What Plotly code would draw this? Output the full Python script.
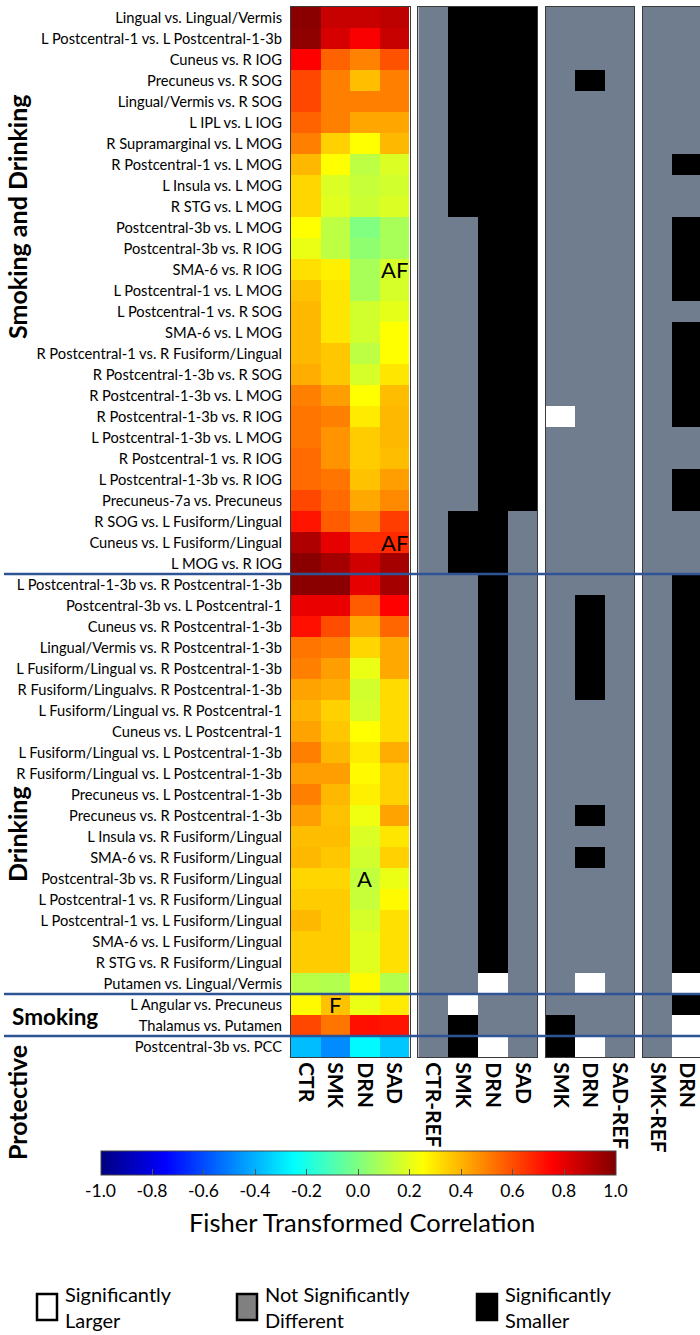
import plotly.graph_objects as go

# ---------------- data ----------------
rows = [
    "Lingual vs. Lingual/Vermis", "L Postcentral-1 vs. L Postcentral-1-3b", "Cuneus vs. R IOG",
    "Precuneus vs. R SOG", "Lingual/Vermis vs. R SOG", "L IPL vs. L IOG",
    "R Supramarginal vs. L MOG", "R Postcentral-1 vs. L MOG", "L Insula vs. L MOG",
    "R STG vs. L MOG", "Postcentral-3b vs. L MOG", "Postcentral-3b vs. R IOG",
    "SMA-6 vs. R IOG", "L Postcentral-1 vs. L MOG", "L Postcentral-1 vs. R SOG",
    "SMA-6 vs. L MOG", "R Postcentral-1 vs. R Fusiform/Lingual", "R Postcentral-1-3b vs. R SOG",
    "R Postcentral-1-3b vs. L MOG", "R Postcentral-1-3b vs. R IOG", "L Postcentral-1-3b vs. L MOG",
    "R Postcentral-1 vs. R IOG", "L Postcentral-1-3b vs. R IOG", "Precuneus-7a vs. Precuneus",
    "R SOG vs. L Fusiform/Lingual", "Cuneus vs. L Fusiform/Lingual", "L MOG vs. R IOG",
    "L Postcentral-1-3b vs. R Postcentral-1-3b", "Postcentral-3b vs. L Postcentral-1",
    "Cuneus vs. R Postcentral-1-3b", "Lingual/Vermis vs. R Postcentral-1-3b",
    "L Fusiform/Lingual vs. R Postcentral-1-3b", "R Fusiform/Lingualvs. R Postcentral-1-3b",
    "L Fusiform/Lingual vs. R Postcentral-1", "Cuneus vs. L Postcentral-1",
    "L Fusiform/Lingual vs. L Postcentral-1-3b", "R Fusiform/Lingual vs. L Postcentral-1-3b",
    "Precuneus vs. L Postcentral-1-3b", "Precuneus vs. R Postcentral-1-3b",
    "L Insula vs. R Fusiform/Lingual", "SMA-6 vs. R Fusiform/Lingual",
    "Postcentral-3b vs. R Fusiform/Lingual", "L Postcentral-1 vs. R Fusiform/Lingual",
    "L Postcentral-1 vs. L Fusiform/Lingual", "SMA-6 vs. L Fusiform/Lingual",
    "R STG vs. R Fusiform/Lingual", "Putamen vs. Lingual/Vermis",
    "L Angular vs. Precuneus", "Thalamus vs. Putamen",
    "Postcentral-3b vs. PCC",
]

groups = ["CTR", "SMK", "DRN", "SAD"]

ctr = [0.98, 0.97, 0.75, 0.61, 0.61, 0.555, 0.50, 0.39, 0.33, 0.33, 0.25, 0.21, 0.31, 0.37,
       0.39, 0.39, 0.39, 0.41, 0.50, 0.52, 0.52, 0.54, 0.54, 0.61, 0.71, 0.91, 0.98,
       0.98, 0.79, 0.72, 0.52, 0.50, 0.43, 0.40, 0.43, 0.50, 0.44, 0.50, 0.44, 0.38, 0.39,
       0.33, 0.35, 0.39, 0.35, 0.35, 0.11,
       0.26, 0.61,
       -0.38]
smk = [0.86, 0.83, 0.555, 0.50, 0.50, 0.50, 0.34, 0.25, 0.18, 0.19, 0.12, 0.12, 0.28, 0.30,
       0.30, 0.30, 0.36, 0.36, 0.44, 0.50, 0.46, 0.46, 0.52, 0.54, 0.57, 0.80, 0.93,
       0.98, 0.79, 0.60, 0.50, 0.44, 0.41, 0.34, 0.36, 0.39, 0.44, 0.39, 0.37, 0.38, 0.36,
       0.33, 0.35, 0.35, 0.35, 0.35, 0.10,
       0.37, 0.52,
       -0.475]
drn = [0.86, 0.76, 0.495, 0.375, 0.50, 0.425, 0.25, 0.12, 0.14, 0.15, 0.00, 0.03, 0.08, 0.08,
       0.16, 0.16, 0.12, 0.17, 0.25, 0.29, 0.35, 0.35, 0.37, 0.42, 0.50, 0.67, 0.84,
       0.80, 0.57, 0.42, 0.33, 0.21, 0.16, 0.17, 0.25, 0.29, 0.26, 0.28, 0.22, 0.18, 0.16,
       0.13, 0.14, 0.17, 0.19, 0.19, 0.26,
       0.21, 0.72,
       -0.26]
sad = [0.88, 0.86, 0.59, 0.50, 0.50, 0.425, 0.39, 0.18, 0.16, 0.18, 0.08, 0.08, 0.17, 0.17,
       0.20, 0.25, 0.25, 0.30, 0.38, 0.39, 0.39, 0.38, 0.44, 0.48, 0.63, 0.67, 0.93,
       0.93, 0.75, 0.55, 0.42, 0.42, 0.32, 0.32, 0.32, 0.41, 0.34, 0.34, 0.43, 0.30, 0.34,
       0.21, 0.26, 0.31, 0.31, 0.31, 0.10,
       0.29, 0.71,
       -0.36]

# significance vs reference: W = significantly larger, G = not different, B = significantly smaller
# groups of rows: smoking & drinking (27) | drinking (20) | smoking (2) | protective (1)
p2_labels = ["CTR-REF", "SMK", "DRN", "SAD"]
p2_ctrref = "GGGGGGGGGGGGGGGGGGGGGGGGGGG GGGGGGGGGGGGGGGGGGGG GG G"
p2_smk    = "BBBBBBBBBBGGGGGGGGGGGGGGBBB GGGGGGGGGGGGGGGGGGGG WB B"
p2_drn    = "BBBBBBBBBBBBBBBBBBBBBBBBBBB BBBBBBBBBBBBBBBBBBBW GG W"
p2_sad    = "BBBBBBBBBBBBBBBBBBBBBBBBGGG GGGGGGGGGGGGGGGGGGGG GG G"

p3_labels = ["SMK", "DRN", "SAD-REF"]
p3_smk    = "GGGGGGGGGGGGGGGGGGGWGGGGGGG GGGGGGGGGGGGGGGGGGGG GB B"
p3_drn    = "GGGBGGGGGGGGGGGGGGGGGGGGGGG GBBBBBGGGGGBGBGGGGGW GG W"
p3_sadref = "GGGGGGGGGGGGGGGGGGGGGGGGGGG GGGGGGGGGGGGGGGGGGGG GG G"

p4_labels = ["SMK-REF", "DRN"]
p4_smkref = "GGGGGGGGGGGGGGGGGGGGGGGGGGG GGGGGGGGGGGGGGGGGGGG GG G"
p4_drn    = "GGGGGGGBGGBBBBGBBBBBGGBBGGG BBBBBBBBBBBBBBBBBBBW BW W"

markers = [("AF", "SAD", 12), ("AF", "SAD", 25), ("A", "DRN", 41), ("F", "SMK", 47)]

# ---------------- styling ----------------
W, H = 700, 1335
TOP, BOT = 7, 1057
FONT = "Lato"
GRAY = "#707D8F"
LINE_BLUE = "#2F5496"

jet = [[0.0, "#000080"], [0.125, "#0000FF"], [0.375, "#00FFFF"],
       [0.625, "#FFFF00"], [0.875, "#FF0000"], [1.0, "#800000"]]
sig_scale = [[0.0, "white"], [0.333, "white"], [0.333, GRAY], [0.667, GRAY],
             [0.667, "black"], [1.0, "black"]]
code = {"W": 0, "G": 1, "B": 2}


def sig_matrix(cols):
    cols = [c.replace(" ", "") for c in cols]
    return [[code[c[i]] for c in cols] for i in range(len(rows))]


def px(x):
    return x / W


def py(y):
    return 1 - y / H


ydom = [py(BOT), py(TOP)]

fig = go.Figure()

z_main = [[ctr[i], smk[i], drn[i], sad[i]] for i in range(len(rows))]
fig.add_trace(go.Heatmap(
    z=z_main, x=groups, y=rows, colorscale=jet, zmin=-1, zmax=1,
    xaxis="x", yaxis="y",
    colorbar=dict(
        orientation="h", x=px(358), xanchor="center", y=py(1151), yanchor="top",
        len=515 / W, lenmode="fraction", thickness=24, xpad=0, ypad=0,
        outlinecolor="#444", outlinewidth=1,
        ticks="inside", ticklen=6, tickcolor="#555",
        tickvals=[-1, -0.8, -0.6, -0.4, -0.2, 0, 0.2, 0.4, 0.6, 0.8, 1.0],
        ticktext=["-1.0", "-0.8", "-0.6", "-0.4", "-0.2", "0.0", "0.2", "0.4", "0.6", "0.8", "1.0"],
        tickfont=dict(family=FONT, size=17.5, color="black"),
    ),
    hoverinfo="skip",
))

panels = [
    (p2_labels, [p2_ctrref, p2_smk, p2_drn, p2_sad], "x2", "y2"),
    (p3_labels, [p3_smk, p3_drn, p3_sadref], "x3", "y3"),
    (p4_labels, [p4_smkref, p4_drn], "x4", "y4"),
]
for labels, cols, xa, ya in panels:
    fig.add_trace(go.Heatmap(
        z=sig_matrix(cols), x=labels, y=rows, colorscale=sig_scale, zmin=0, zmax=2,
        showscale=False, xaxis=xa, yaxis=ya, hoverinfo="skip",
    ))

xbase = dict(tickangle=90, ticks="", automargin=False, showline=True, mirror=True,
             linecolor="#3a3a3a", linewidth=1, showgrid=False, zeroline=False,
             tickfont=dict(family=FONT, size=21, color="black", weight="bold"))
ybase = dict(autorange="reversed", domain=ydom, showline=True, mirror=True,
             linecolor="#3a3a3a", linewidth=1, showgrid=False, zeroline=False,
             automargin=False, categoryorder="array", categoryarray=rows)

fig.update_layout(
    width=W, height=H, margin=dict(l=0, r=0, t=0, b=0),
    paper_bgcolor="white", plot_bgcolor="white",
    font=dict(family=FONT, color="black"),
    xaxis=dict(domain=[px(291), px(409.5)], anchor="y", **xbase),
    yaxis=dict(anchor="x", ticks="outside", ticklen=5, tickcolor="rgba(0,0,0,0)",
               tickfont=dict(family=FONT, size=14.7, color="black"), **ybase),
    xaxis2=dict(domain=[px(418.3), px(537.3)], anchor="y2", **xbase),
    yaxis2=dict(anchor="x2", showticklabels=False, ticks="", **ybase),
    xaxis3=dict(domain=[px(545.7), px(634.3)], anchor="y3", **xbase),
    yaxis3=dict(anchor="x3", showticklabels=False, ticks="", **ybase),
    xaxis4=dict(domain=[px(642.7), 1.0], anchor="y4", range=[-0.5, 1.45], **xbase),
    yaxis4=dict(anchor="x4", showticklabels=False, ticks="", **ybase),
)

# group separators
for yb in [26.5, 46.5, 48.5]:
    fig.add_shape(type="line", xref="paper", yref="y", x0=px(4), x1=1.0, y0=yb, y1=yb,
                  line=dict(color=LINE_BLUE, width=2.5))

ann = []
for txt, col, r in markers:
    ann.append(dict(text=txt, x=col, y=rows[r], xref="x", yref="y", showarrow=False,
                    xanchor="center", yanchor="middle",
                    font=dict(family=FONT, size=22, color="black")))

rot = dict(family=FONT, size=25, color="black", weight="bold")
ann += [
    dict(text="Smoking and Drinking", x=px(17), y=py(217), textangle=-90, font=rot),
    dict(text="Drinking", x=px(17), y=py(834), textangle=-90, font=rot),
    dict(text="Smoking", x=px(55), y=py(1016),
         font=dict(family=FONT, size=22.5, color="black", weight="bold")),
    dict(text="Protective", x=px(17), y=py(1103), textangle=-90, font=rot),
    dict(text="Fisher Transformed Correlation", x=px(362), y=py(1222),
         font=dict(family=FONT, size=25.5, color="black")),
]
for a in ann[len(markers):]:
    a.update(xref="paper", yref="paper", xanchor="center", yanchor="middle", showarrow=False)

# significance legend
legend_items = [
    ("white", 37, "Significantly<br>Larger"),
    ("#808080", 237, "Not Significantly<br>Different"),
    ("black", 477, "Significantly<br>Smaller"),
]
for fill, x0, txt in legend_items:
    fig.add_shape(type="rect", xref="paper", yref="paper",
                  x0=px(x0), x1=px(x0 + 20), y0=py(1320), y1=py(1294),
                  fillcolor=fill, line=dict(color="black", width=2.5))
    ann.append(dict(text=txt, x=px(x0 + 26), y=py(1307), xref="paper", yref="paper",
                    xanchor="left", yanchor="middle", align="left", showarrow=False,
                    font=dict(family=FONT, size=20, color="black")))

fig.update_layout(annotations=ann)
fig.write_html("out.html", config={"displayModeBar": False},
               post_script="document.body.style.margin='0';document.body.style.padding='0';")
